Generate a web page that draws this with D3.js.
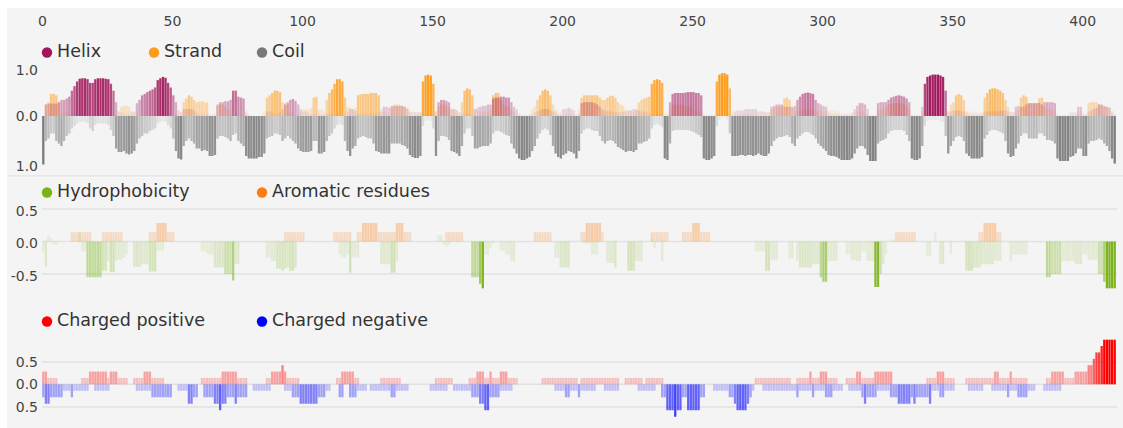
<!DOCTYPE html>
<html>
<head>
<meta charset="utf-8">
<script src="https://cdn.jsdelivr.net/npm/d3@7"></script>
<style>
  body { margin: 0; background: #fff; }
  text { font-family: "DejaVu Sans", Verdana, sans-serif; }
</style>
</head>
<body>
<script>
// sequence length and top axis
var N = 413;
var posTicks = [0, 50, 100, 150, 200, 250, 300, 350, 400];

// secondary structure probabilities per residue (x100)
var helix = [
  0,25,27,27,27,27,30,35,35,38,
  42,55,65,75,81,82,82,80,72,72,
  80,82,82,82,81,80,70,55,30,10,
  8,5,5,5,10,10,28,35,45,48,
  52,55,58,62,78,82,85,83,72,62,
  45,30,12,8,15,15,15,15,12,8,
  5,5,5,5,3,3,5,25,30,30,
  32,32,35,55,55,42,40,38,10,5,
  0,0,0,0,0,3,10,10,8,5,
  5,8,15,25,30,35,37,33,25,15,
  10,10,8,5,5,5,5,5,5,5,
  5,5,3,3,3,3,5,10,15,15,
  12,5,5,5,5,5,5,5,5,8,
  10,20,20,18,22,22,22,22,22,20,
  15,10,8,8,8,8,5,3,3,3,
  5,10,30,35,35,33,30,15,15,12,
  8,5,5,5,5,5,15,18,20,22,
  22,25,25,38,40,40,42,42,40,40,
  30,20,15,5,3,3,3,5,5,8,
  10,12,15,15,15,12,10,10,5,5,
  15,15,18,15,12,5,5,28,30,30,
  30,30,28,25,20,15,12,10,10,8,
  8,8,8,10,10,12,12,15,15,12,
  10,10,8,5,3,3,3,3,3,3,
  5,30,48,50,50,50,50,51,52,52,
  52,50,50,45,5,3,3,3,3,3,
  3,3,3,3,3,5,10,12,12,12,
  15,15,15,15,15,10,10,10,8,8,
  20,22,25,25,25,20,20,20,20,22,
  35,42,48,50,51,50,48,35,28,25,
  22,20,8,5,5,5,5,5,5,5,
  5,8,15,22,28,28,25,15,3,3,
  3,28,30,30,30,35,40,42,44,45,
  44,42,38,30,3,3,3,3,20,70,
  85,88,90,90,90,88,85,55,10,10,
  12,12,12,10,10,8,5,5,5,5,
  5,5,10,10,10,10,10,10,12,12,
  12,10,8,8,20,22,20,20,25,28,
  28,28,28,28,25,30,30,30,30,28,
  5,3,3,3,3,8,8,8,20,20,
  5,5,10,12,15,18,25,25,22,20,
  18,10,5
];
var strand = [
  0,25,30,48,48,45,30,10,10,8,
  5,0,0,0,0,0,0,0,0,0,
  0,0,0,0,0,0,0,5,5,10,
  20,22,22,20,10,8,5,0,0,0,
  0,0,0,0,0,0,0,0,0,0,
  0,5,8,10,30,38,45,42,35,30,
  32,32,30,30,5,5,5,22,25,25,
  20,15,10,5,5,5,5,5,5,3,
  3,2,2,2,5,10,40,45,50,55,
  55,52,30,28,25,10,5,5,5,10,
  15,15,15,18,40,42,15,15,12,35,
  50,58,70,80,80,75,40,20,18,15,
  18,45,47,48,48,48,50,50,50,45,
  15,8,5,5,20,25,25,25,22,20,
  18,10,8,8,8,10,75,88,90,88,
  70,10,20,25,25,22,20,15,15,12,
  8,30,55,60,58,45,15,12,10,10,
  10,10,12,45,50,50,35,25,22,20,
  15,10,8,5,3,3,3,5,15,20,
  35,45,55,58,55,45,25,15,10,10,
  5,5,5,5,5,3,15,40,45,45,
  45,45,45,45,40,35,35,40,44,44,
  40,30,25,22,15,12,12,10,12,30,
  35,38,40,42,70,78,80,78,72,5,
  5,15,25,25,25,25,25,22,20,20,
  15,12,10,10,3,3,3,3,3,75,
  90,93,93,90,60,10,8,5,5,5,
  5,5,5,5,5,8,8,8,8,8,
  15,18,20,20,22,38,40,35,18,12,
  12,12,15,15,15,15,15,12,10,10,
  10,10,12,12,12,12,10,5,5,5,
  5,5,8,10,10,10,8,5,2,2,
  2,15,15,15,18,25,25,28,28,28,
  28,25,20,15,3,3,3,3,10,5,
  3,3,3,3,3,3,3,5,10,25,
  30,45,48,45,35,12,10,10,8,8,
  8,10,40,50,58,60,60,58,55,50,
  35,20,10,8,10,15,40,45,42,28,
  28,28,28,38,40,20,15,15,12,10,
  3,3,3,3,3,5,5,5,8,8,
  5,5,28,30,30,30,25,22,20,20,
  18,10,5
];
var coil = [
  97,50,45,35,35,50,55,60,50,40,
  35,25,20,15,12,12,12,15,25,30,
  18,15,15,15,15,18,28,40,65,72,
  72,70,75,77,75,70,55,45,40,35,
  35,30,28,25,15,12,10,12,18,25,
  45,70,85,87,60,50,45,50,55,65,
  65,70,68,70,80,80,78,45,40,40,
  42,45,50,38,35,50,55,60,80,85,
  85,85,85,82,82,75,45,42,40,35,
  35,38,50,45,40,45,50,55,65,70,
  72,72,72,70,50,50,75,75,72,50,
  40,35,25,18,15,18,50,70,80,65,
  60,45,42,40,42,45,45,55,70,72,
  75,75,75,75,55,55,55,55,58,60,
  65,78,82,84,84,80,20,10,8,10,
  25,80,50,40,40,42,48,70,72,75,
  80,60,35,25,25,40,65,65,62,60,
  60,60,55,35,30,30,32,35,38,40,
  55,65,75,85,88,88,85,82,70,60,
  45,35,28,25,28,38,60,75,82,85,
  78,75,70,72,75,85,70,35,28,25,
  25,28,30,30,40,50,55,50,48,50,
  55,62,65,68,72,70,70,72,68,55,
  55,52,50,45,25,18,15,18,22,85,
  88,55,30,28,28,28,28,28,28,30,
  32,35,38,42,85,88,88,85,80,20,
  8,5,5,8,35,80,80,80,78,78,
  80,78,78,80,78,75,78,80,80,75,
  60,50,45,42,42,40,38,42,55,60,
  45,40,35,32,32,35,38,45,55,60,
  65,70,78,80,80,82,85,88,88,88,
  88,85,75,65,60,60,65,78,90,90,
  90,55,50,48,45,35,30,28,28,28,
  28,30,38,50,85,88,88,85,60,20,
  10,8,8,8,8,10,12,40,75,60,
  50,42,40,42,50,75,80,85,85,85,
  85,82,45,38,30,28,28,30,32,35,
  50,75,82,80,65,55,40,35,35,45,
  45,45,45,35,35,40,48,48,50,55,
  85,90,90,90,90,82,80,75,65,65,
  80,80,55,50,50,48,45,48,55,60,
  70,85,95
];

// hydrophobicity per residue (x100)
var hydro = [
  -16,-39,9,5,-5,-5,0,0,0,0,
  0,0,0,0,16,-15,-15,-55,-55,-55,
  -55,-55,-55,-45,-45,-30,-47,-47,-30,-28,
  -28,-25,-20,0,0,-39,-39,-39,-35,-35,
  -35,-46,-46,-46,-15,-15,-15,0,0,0,
  0,0,0,0,0,0,0,0,0,0,
  0,-15,-15,-18,-20,-20,-40,-40,-40,-40,
  -50,-50,-50,-60,-35,-35,0,0,0,0,
  0,0,0,0,0,0,-25,-25,-30,-30,
  -42,-42,-45,-42,-40,-45,-45,-40,0,0,
  0,0,0,0,0,0,0,0,0,0,
  0,0,0,0,-20,-25,-25,-20,-48,-25,
  -25,-25,0,0,0,0,0,0,0,0,
  -35,-35,-35,-35,-48,-48,-30,0,0,0,
  0,0,0,0,0,0,0,0,0,0,
  0,0,10,10,-5,-8,-5,0,0,0,
  0,0,0,0,0,-55,-55,-55,-65,-72,
  -20,-20,-10,-3,0,0,-15,-15,-20,-20,
  -30,-30,0,0,0,0,0,0,0,0,
  0,0,0,0,0,0,0,-25,-25,-40,
  -40,-40,-40,0,0,0,0,0,-3,-3,
  -3,-20,-20,-20,0,0,0,-33,-33,-33,
  -40,0,0,0,0,-45,-45,-45,-30,-30,
  -30,0,0,0,5,-10,0,0,-30,0,
  0,0,0,0,0,0,0,0,0,0,
  0,0,0,0,0,0,0,0,0,0,
  0,0,0,0,0,0,0,0,0,0,
  0,0,0,0,-15,-15,-15,-15,-45,-45,
  -28,-28,-28,0,0,0,0,-27,-27,0,
  -30,-40,-40,-40,-40,-40,-35,-35,-35,-55,
  -62,-62,-30,-30,-30,-30,0,0,0,-20,
  -20,-28,-28,-30,-30,-15,-15,-30,-30,-30,
  -70,-70,-50,-35,-20,0,3,3,0,0,
  0,0,0,0,0,0,0,0,0,0,
  -22,-22,0,15,0,-35,-35,0,0,-20,
  0,0,0,0,0,-45,-45,-45,-40,-40,
  -40,-35,-35,-35,-35,-35,-30,-30,-30,0,
  0,0,-30,-20,-20,-20,-20,-20,-20,0,
  0,0,0,0,0,0,-55,-55,-50,-50,
  -50,-50,-30,-30,-30,-30,-30,-35,-35,-35,
  -20,-20,-28,-28,-28,-28,-50,-50,-62,-72,
  -72,-72,-72
];

// window counts (of 7) as runs: [from, to, count]
var aromaticRuns = [[12,19,1],[24,31,1],[42,44,1],[45,48,2],[49,51,1],[94,101,1],[113,119,1],
  [122,123,1],[124,129,2],[130,136,1],[137,139,2],[140,142,1],[156,162,1],[190,196,1],
  [208,209,1],[210,215,2],[216,216,1],[235,241,1],[247,250,1],[251,253,2],[254,257,1],
  [329,336,1],[361,362,1],[363,367,2],[368,369,1]];
var positiveRuns = [[1,2,2],[3,6,1],[16,18,1],[19,25,2],[26,26,1],[27,29,2],[30,33,1],[36,39,1],
  [40,42,2],[43,47,1],[62,69,1],[70,75,2],[76,79,1],[87,88,1],[89,92,2],[93,93,3],[94,94,2],
  [95,99,1],[114,115,1],[116,120,2],[121,122,1],[131,138,1],[152,158,1],[165,167,1],[168,170,2],
  [171,172,1],[173,173,2],[174,176,1],[177,179,2],[180,183,1],[193,206,1],[208,222,1],[225,231,1],
  [233,239,1],[275,288,1],[291,295,1],[296,296,2],[297,299,1],[300,302,2],[303,306,1],[310,313,1],
  [314,315,2],[316,320,1],[321,327,2],[341,344,1],[345,347,2],[348,351,1],[356,366,1],[367,368,2],
  [369,372,1],[373,373,2],[374,379,1],[387,388,1],[389,393,2],[394,397,1],[398,402,2],[403,404,3],
  [405,405,4],[406,407,5],[408,408,6],[409,413,7]];
var negativeRuns = [[1,1,2],[2,3,3],[4,8,2],[9,11,1],[12,12,2],[13,18,1],[21,26,1],[37,42,1],
  [43,50,2],[53,56,1],[57,58,3],[59,60,2],[63,66,2],[67,68,3],[69,69,4],[70,71,3],[72,74,2],
  [75,75,3],[76,79,2],[82,88,1],[94,96,1],[97,99,2],[100,106,3],[107,109,2],[110,111,1],
  [115,116,2],[119,121,2],[122,125,1],[127,134,1],[135,136,2],[137,141,1],[150,156,1],[159,165,1],
  [166,168,2],[169,170,3],[171,172,4],[173,176,2],[177,181,1],[198,201,1],[202,203,2],[204,206,1],
  [207,207,2],[208,213,1],[217,222,1],[230,236,1],[239,240,2],[241,243,4],[244,244,5],[245,246,4],
  [247,248,2],[249,253,4],[254,255,2],[259,264,1],[265,266,2],[267,267,3],[268,271,4],[272,272,3],
  [273,273,2],[274,274,1],[278,290,1],[291,291,2],[292,296,1],[297,297,2],[298,301,1],[302,304,2],
  [305,308,1],[311,315,1],[316,316,2],[317,317,3],[318,321,2],[322,326,1],[327,329,2],[330,334,3],
  [335,335,2],[336,336,3],[337,341,2],[342,342,3],[343,345,1],[346,347,2],[348,351,1],[357,362,1],
  [366,371,1],[372,372,2],[373,375,1],[376,379,2],[380,382,1],[386,392,1]];

// axis labels
var ssLabels = ["1.0", "0.0", "1.0"], ssLabelVals = [1, 0, -1];
var hyLabels = ["0.5", "0.0", "-0.5"], hyLabelVals = [0.5, 0, -0.5];
var chLabels = ["0.5", "0.0", "0.5"], chLabelVals = [0.5, 0, -0.5];

var svg = d3.select("body").append("svg")
    .attr("width", 1123)
    .attr("height", 428);

svg.append("rect").attr("x", 7).attr("y", 8).attr("width", 1116).attr("height", 420).attr("fill", "#f4f4f4");
svg.append("rect").attr("x", 7).attr("y", 175.5).attr("width", 1116).attr("height", 1.2).attr("fill", "#dcdcdc");
svg.append("rect").attr("x", 7).attr("y", 176.7).attr("width", 1116).attr("height", 1.2).attr("fill", "#fbfbfb");

var x = d3.scaleLinear().domain([0, N]).range([42, 1116]);
var y1 = d3.scaleLinear().domain([-1, 0, 1]).range([166, 116, 70]);
var y2 = d3.scaleLinear().domain([-0.5, 0, 0.5]).range([274, 241.5, 209]);
var y3 = d3.scaleLinear().domain([-0.5, 0, 0.5]).range([407, 384.3, 362]);

function expandRuns(runs, scale) {
    var out = new Array(N).fill(0);
    runs.forEach(function(r) {
        for (var i = r[0]; i <= r[1]; i++) out[i - 1] = scale * r[2] / 7;
    });
    return out;
}

// top axis
var axis = svg.append("g")
    .attr("transform", "translate(0,31)")
    .call(d3.axisTop(x).tickValues(posTicks).tickSize(0).tickPadding(5));
axis.select(".domain").remove();
axis.selectAll("text").attr("font-size", 14).attr("fill", "#444")
    .style("font-family", "'DejaVu Sans', Verdana, sans-serif");

function drawBars(vals, y, color, opacity) {
    var bw = x(1) - x(0);
    svg.append("g").selectAll("rect")
        .data(vals.map(function(v, i) { return { v: v, i: i }; }).filter(function(d) { return d.v !== 0; }))
        .join("rect")
        .attr("x", function(d) { return x(d.i) + 0.15; })
        .attr("width", bw - 0.3)
        .attr("y", function(d) { return Math.min(y(d.v), y(0)); })
        .attr("height", function(d) { return Math.abs(y(d.v) - y(0)); })
        .attr("fill", color)
        .attr("fill-opacity", function(d) { return opacity(Math.abs(d.v)); });
}

function grid(y, vals) {
    svg.append("g").selectAll("line").data(vals).join("line")
        .attr("x1", 42).attr("x2", 1117)
        .attr("y1", y).attr("y2", y)
        .attr("stroke", "#e2e2e2").attr("stroke-width", 1.5);
}

function yLabels(y, labels, vals, shift) {
    svg.append("g").selectAll("text").data(vals).join("text")
        .attr("x", 38).attr("y", function(d) { return y(d) + shift; })
        .attr("dy", "0.35em")
        .attr("text-anchor", "end")
        .attr("font-size", 14).attr("fill", "#444")
        .text(function(d, i) { return labels[i]; });
}

function legend(items, yBase) {
    var g = svg.append("g");
    items.forEach(function(it) {
        g.append("circle").attr("cx", it[0]).attr("cy", yBase - 4.5).attr("r", 5.2).attr("fill", it[2]);
        g.append("text").attr("x", it[0] + 10).attr("y", yBase)
            .attr("font-size", 17.5).attr("fill", "#333").text(it[1]);
    });
}

var helixColor = "#a0175b", strandColor = "#ff9c1a", coilColor = "#777777";
var hydroColor = "#7ab317", aromColor = "#fb7d11";
var posColor = "#ff0000", negColor = "#0000ff";

// panel 1: secondary structure
yLabels(y1, ssLabels, ssLabelVals, 0);
legend([[47, "Helix", helixColor], [154, "Strand", strandColor], [262, "Coil", coilColor]], 57);
var ssOp = function(v) { return Math.min(1, v * 1.1); };
drawBars(coil.map(function(v) { return -v / 100; }), y1, coilColor, function(v) { return v; });
drawBars(strand.map(function(v) { return v / 100; }), y1, strandColor, ssOp);
drawBars(helix.map(function(v) { return v / 100; }), y1, helixColor, ssOp);

// panel 2: hydrophobicity and aromatic residues
grid(y2(0.5), [0]); grid(y2(0), [0]); grid(y2(-0.5), [0]);
yLabels(y2, hyLabels, hyLabelVals, 2);
legend([[47, "Hydrophobicity", hydroColor], [262, "Aromatic residues", aromColor]], 197);
drawBars(expandRuns(aromaticRuns, 1), y2, aromColor, function(v) { return 0.08 + 0.92 * v; });
drawBars(hydro.map(function(v) { return v / 100; }), y2, hydroColor, function(v) { return Math.min(1, 0.12 + 3.2 * Math.pow(v, 4)); });

// panel 3: charges
grid(y3(0.5), [0]); grid(y3(0), [0]); grid(y3(-0.5), [0]);
yLabels(y3, chLabels, chLabelVals, 0);
legend([[47, "Charged positive", posColor], [262, "Charged negative", negColor]], 326);
drawBars(expandRuns(positiveRuns, 1), y3, posColor, function(v) { return 0.08 + 0.92 * v; });
drawBars(expandRuns(negativeRuns, -1), y3, negColor, function(v) { return 0.08 + 0.92 * v; });
</script>
</body>
</html>
